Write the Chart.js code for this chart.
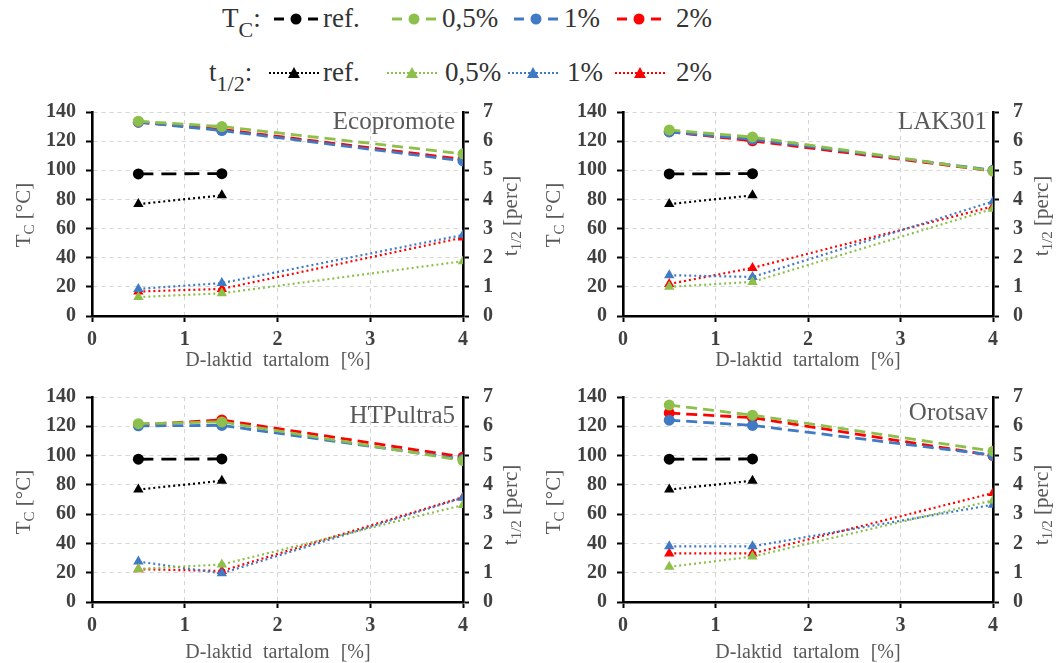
<!DOCTYPE html>
<html>
<head>
<meta charset="utf-8">
<script src="https://cdn.jsdelivr.net/npm/chart.js@4"></script>
<style>
body { margin: 0; background: #fff; width: 1056px; height: 663px; position: relative; overflow: hidden;
       font-family: "Liberation Serif", "Times New Roman", serif; color: #595959; }
canvas { position: absolute; }
.leg { position: absolute; white-space: nowrap; font-size: 27px; line-height: 27px; color: #333; }
.leg sub { font-size: 22px; vertical-align: -10px; }
.ytitle { position: absolute; white-space: nowrap; font-size: 21px; line-height: 21px; transform: translate(-50%, -50%) rotate(-90deg); }
.ytitle sub { font-size: 15px; vertical-align: -4px; }
.xtitle { position: absolute; white-space: nowrap; font-size: 20px; word-spacing: 6px; transform: translate(-50%, -50%); }
.name { position: absolute; white-space: nowrap; font-size: 25px; line-height: 25px; transform: translateY(-50%); }
svg { position: absolute; }
</style>
</head>
<body>

<!-- legend -->
<div class="leg" style="left:222px; top:5px;">T<sub>C</sub>:</div>
<div class="leg" style="left:323px; top:5px;">ref.</div>
<div class="leg" style="left:442px; top:5px;">0,5%</div>
<div class="leg" style="left:564px; top:5px;">1%</div>
<div class="leg" style="left:676px; top:5px;">2%</div>
<div class="leg" style="left:209px; top:59px;">t<sub>1/2</sub>:</div>
<div class="leg" style="left:323px; top:59px;">ref.</div>
<div class="leg" style="left:445px; top:59px;">0,5%</div>
<div class="leg" style="left:567px; top:59px;">1%</div>
<div class="leg" style="left:676px; top:59px;">2%</div>
<div id="legendMarks"></div>

<canvas id="c1" width="530" height="283" style="left:0px; top:86px;"></canvas>
<canvas id="c2" width="526" height="283" style="left:530px; top:86px;"></canvas>
<canvas id="c3" width="530" height="287" style="left:0px; top:371px;"></canvas>
<canvas id="c4" width="526" height="287" style="left:530px; top:371px;"></canvas>

<div class="ytitle" style="left:26px; top:215px;">T<sub>C</sub> [°C]</div>
<div class="ytitle" style="left:513px; top:216px;">t<sub>1/2</sub> [perc]</div>
<div class="ytitle" style="left:556px; top:215px;">T<sub>C</sub> [°C]</div>
<div class="ytitle" style="left:1044px; top:216px;">t<sub>1/2</sub> [perc]</div>
<div class="ytitle" style="left:26px; top:502px;">T<sub>C</sub> [°C]</div>
<div class="ytitle" style="left:513px; top:505px;">t<sub>1/2</sub> [perc]</div>
<div class="ytitle" style="left:556px; top:502px;">T<sub>C</sub> [°C]</div>
<div class="ytitle" style="left:1044px; top:505px;">t<sub>1/2</sub> [perc]</div>

<div class="xtitle" style="left:278px; top:359px;">D-laktid tartalom [%]</div>
<div class="xtitle" style="left:808px; top:359px;">D-laktid tartalom [%]</div>
<div class="xtitle" style="left:278px; top:651px;">D-laktid tartalom [%]</div>
<div class="xtitle" style="left:808px; top:651px;">D-laktid tartalom [%]</div>

<div class="name" id="n1" style="right:601px; top:120px;"></div>
<div class="name" id="n2" style="right:69px; top:120px;"></div>
<div class="name" id="n3" style="right:601px; top:414px;"></div>
<div class="name" id="n4" style="right:68px; top:411px;"></div>

<script>
// Data
const panelNames = ['Ecopromote', 'LAK301', 'HTPultra5', 'Orotsav'];
const xVals = [0.5, 1.4, 4];
const xRef = [0.5, 1.4];
const refTc = [97.5, 97.7];
const refHalf = [3.84, 4.14];

// Tc [°C], left axis
const ecoTc05 = [133.7, 130.0, 111.3];
const ecoTc1 = [133.0, 127.3, 106.4];
const ecoTc2 = [133.0, 128.0, 107.5];
const lakTc05 = [127.7, 122.8, 99.5];
const lakTc1 = [126.3, 121.3, 100.0];
const lakTc2 = [126.5, 120.2, 99.6];
const htpTc05 = [121.8, 123.0, 96.6];
const htpTc1 = [120.3, 120.6, 97.5];
const htpTc2 = [121.0, 124.3, 99.0];
const oroTc05 = [134.5, 127.6, 103.0];
const oroTc1 = [124.2, 120.6, 100.3];
const oroTc2 = [129.0, 125.9, 100.0];

// t1/2 [perc], right axis
const ecoHalf05 = [0.65, 0.78, 1.88];
const ecoHalf1 = [0.93, 1.13, 2.78];
const ecoHalf2 = [0.84, 0.93, 2.69];
const lakHalf05 = [1.0, 1.17, 3.68];
const lakHalf1 = [1.4, 1.34, 3.93];
const lakHalf2 = [1.1, 1.65, 3.76];
const htpHalf05 = [1.13, 1.28, 3.31];
const htpHalf1 = [1.38, 0.98, 3.56];
const htpHalf2 = [1.12, 1.06, 3.58];
const oroHalf05 = [1.2, 1.55, 3.47];
const oroHalf1 = [1.9, 1.9, 3.32];
const oroHalf2 = [1.66, 1.66, 3.72];

const GREEN = '#8dc04b';
const BLUE = '#4079c4';
const RED = '#ff0000';
const BLACK = '#000000';

// legend markers (svg)
function legendMark(x, y, color, dotted) {
    let s = `<svg style="left:${x}px; top:${y - 10}px;" width="50" height="20">`;
    if (dotted) {
        s += `<line x1="0" y1="10" x2="50" y2="10" stroke="${color}" stroke-width="2.2" stroke-dasharray="2 2"/>`;
        s += `<polygon points="25,4 31,15 19,15" fill="${color}"/>`;
    } else {
        s += `<line x1="3" y1="10" x2="13" y2="10" stroke="${color}" stroke-width="3"/>`;
        s += `<line x1="37" y1="10" x2="47" y2="10" stroke="${color}" stroke-width="3"/>`;
        s += `<circle cx="25" cy="10" r="5.5" fill="${color}"/>`;
    }
    return s + '</svg>';
}
document.getElementById('legendMarks').innerHTML =
    legendMark(271, 19, BLACK, false) + legendMark(389, 19, GREEN, false) +
    legendMark(511, 19, BLUE, false) + legendMark(614, 19, RED, false) +
    legendMark(269, 73, BLACK, true) + legendMark(387, 73, GREEN, true) +
    legendMark(508, 73, BLUE, true) + legendMark(615, 73, RED, true);

function pts(xs, ys) {
    return ys.map((v, i) => ({ x: xs[i], y: v }));
}

function tcSet(ys, color) {
    return {
        data: pts(xVals, ys), yAxisID: 'y', borderColor: color, backgroundColor: color,
        borderWidth: 2.8, borderDash: [11, 6], pointStyle: 'circle', pointRadius: 5.5,
        pointBorderWidth: 0
    };
}
function halfSet(ys, color) {
    return {
        data: pts(xVals, ys), yAxisID: 'y2', borderColor: color, backgroundColor: color,
        borderWidth: 2.2, borderDash: [2, 3], pointStyle: 'triangle', pointRadius: 6,
        pointBorderWidth: 0
    };
}

const tickFont = { family: '"Liberation Serif", "Times New Roman", serif', size: 20, weight: 'bold' };
const gridOpts = {
    color: '#d4d4d4', lineWidth: 1, tickLength: 6, tickColor: '#000', tickWidth: 2, tickBorderDash: []
};
const borderOpts = { color: '#000', width: 2.6, dash: [4, 4] };

function makeChart(id, tc05, tc1, tc2, h05, h1, h2, leftW, rightW, bottomH) {
    const datasets = [
        { data: pts(xRef, refTc), yAxisID: 'y', borderColor: BLACK, backgroundColor: BLACK,
          borderWidth: 2.8, borderDash: [15, 8], pointStyle: 'circle', pointRadius: 5.5, pointBorderWidth: 0 },
        { data: pts(xRef, refHalf), yAxisID: 'y2', borderColor: BLACK, backgroundColor: BLACK,
          borderWidth: 2.2, borderDash: [2, 3], pointStyle: 'triangle', pointRadius: 6, pointBorderWidth: 0 },
        tcSet(tc05, GREEN), tcSet(tc1, BLUE), tcSet(tc2, RED),
        halfSet(h05, GREEN), halfSet(h1, BLUE), halfSet(h2, RED)
    ];
    return new Chart(document.getElementById(id).getContext('2d'), {
        type: 'line',
        data: { datasets: datasets },
        options: {
            responsive: false,
            animation: false,
            layout: { padding: { top: 3, left: 0, right: 0, bottom: 0 } },
            plugins: { legend: { display: false }, tooltip: { enabled: false } },
            scales: {
                x: {
                    type: 'linear', min: 0, max: 4,
                    ticks: { stepSize: 1, font: tickFont, color: '#404040', padding: 6, maxRotation: 0 },
                    grid: gridOpts, border: borderOpts,
                    afterFit: s => { s.height = bottomH; }
                },
                y: {
                    position: 'left', min: 0, max: 140,
                    ticks: { stepSize: 20, font: tickFont, color: '#404040', padding: 10 },
                    grid: gridOpts, border: borderOpts,
                    afterFit: s => { s.width = leftW; }
                },
                y2: {
                    position: 'right', min: 0, max: 7,
                    ticks: { stepSize: 1, font: tickFont, color: '#404040', padding: 14 },
                    grid: Object.assign({}, gridOpts, { drawOnChartArea: false }), border: borderOpts,
                    afterFit: s => { s.width = rightW; }
                }
            }
        }
    });
}

makeChart('c1', ecoTc05, ecoTc1, ecoTc2, ecoHalf05, ecoHalf1, ecoHalf2, 92, 67, 53);
makeChart('c2', lakTc05, lakTc1, lakTc2, lakHalf05, lakHalf1, lakHalf2, 93, 63, 53);
makeChart('c3', htpTc05, htpTc1, htpTc2, htpHalf05, htpHalf1, htpHalf2, 92, 67, 56);
makeChart('c4', oroTc05, oroTc1, oroTc2, oroHalf05, oroHalf1, oroHalf2, 93, 63, 56);

panelNames.forEach((n, i) => { document.getElementById('n' + (i + 1)).textContent = n; });
</script>
</body>
</html>
